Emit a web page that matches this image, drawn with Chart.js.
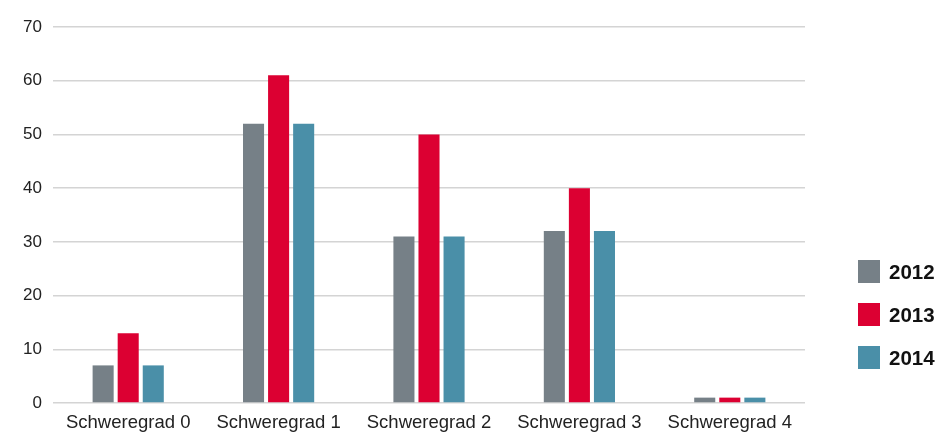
<!DOCTYPE html>
<html>
<head>
<meta charset="utf-8">
<script src="https://cdn.jsdelivr.net/npm/chart.js@4/dist/chart.umd.min.js"></script>
<style>
  html, body { margin: 0; padding: 0; background: #fff; }
  #wrap { position: relative; width: 941px; height: 434px; }
  #chart { display: block; }
  #legend { position: absolute; left: 858px; top: 260px; font-family: "Liberation Sans", Arial, sans-serif; }
  .item { display: flex; align-items: center; height: 23px; margin-bottom: 20px; }
  .box { width: 22px; height: 23px; margin-right: 9px; }
  .label { font-size: 20.5px; font-weight: bold; color: #111; }
</style>
</head>
<body>
<div id="wrap">
  <canvas id="chart" width="941" height="434"></canvas>
  <div id="legend"></div>
</div>
<script>
const categories = ["Schweregrad 0", "Schweregrad 1", "Schweregrad 2", "Schweregrad 3", "Schweregrad 4"]
const years = ["2012", "2013", "2014"]
const values2012 = [7, 52, 31, 32, 1]
const values2013 = [13, 61, 50, 40, 1]
const values2014 = [7, 52, 31, 32, 1]
const colors = ["#768087", "#dc0032", "#4a8fa8"]

const font = "'Liberation Sans', Arial, sans-serif"

const datasets = [values2012, values2013, values2014].map((vals, i) => ({
  label: years[i],
  data: vals,
  backgroundColor: colors[i],
  borderWidth: 0,
  categoryPercentage: 0.5,
  barPercentage: 0.84
}))

const ctx = document.getElementById("chart").getContext("2d")
new Chart(ctx, {
  type: "bar",
  data: { labels: categories, datasets },
  options: {
    responsive: false,
    animation: false,
    layout: { padding: { top: 27, right: 136, left: 0, bottom: 0 } },
    plugins: {
      legend: { display: false },
      tooltip: { enabled: false }
    },
    scales: {
      x: {
        grid: { display: false },
        border: { display: false },
        ticks: { color: "#222", font: { family: font, size: 18.5 }, padding: 1, maxRotation: 0 },
        afterFit: s => { s.height = 31 }
      },
      y: {
        min: 0,
        max: 70,
        ticks: { stepSize: 10, color: "#222", font: { family: font, size: 17 }, padding: 11 },
        grid: { color: "#d4d4d4", lineWidth: 1.5, drawTicks: false },
        border: { display: false },
        afterFit: s => { s.width = 53 }
      }
    }
  }
})

const legend = document.getElementById("legend")
years.forEach((y, i) => {
  const item = document.createElement("div")
  item.className = "item"
  item.innerHTML = `<span class="box" style="background:${colors[i]}"></span><span class="label">${y}</span>`
  legend.appendChild(item)
})
</script>
</body>
</html>
